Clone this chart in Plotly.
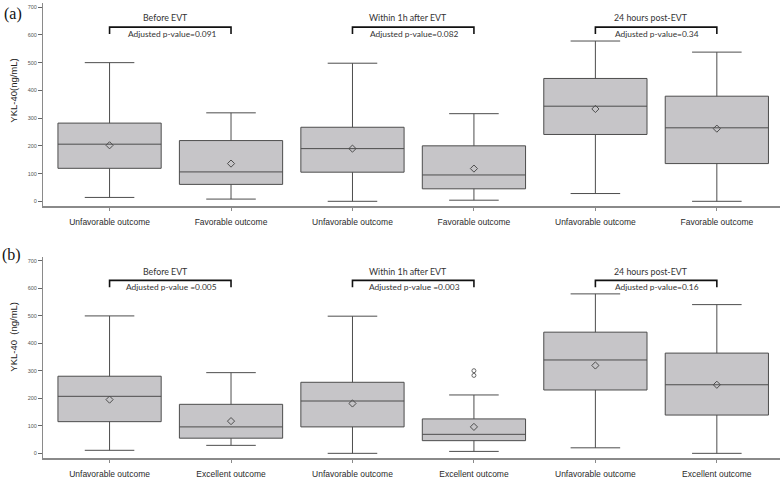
import plotly.graph_objects as go

# ---------------- data ----------------
labels_a = ["Unfavorable outcome", "Favorable outcome"] * 3
labels_b = ["Unfavorable outcome", "Excellent outcome"] * 3
timepoints = ["Before EVT", "Within 1h after EVT", "24 hours post-EVT"]
pvals_a = ["Adjusted p-value=0.091", "Adjusted p-value=0.082", "Adjusted p-value=0.34"]
pvals_b = ["Adjusted p-value =0.005", "Adjusted p-value =0.003", "Adjusted p-value=0.16"]

# panel (a)
a_lower = [14, 8, 0, 4, 28, 0]
a_q1 = [119, 61, 105, 45, 241, 136]
a_median = [206, 106, 190, 95, 343, 265]
a_q3 = [282, 219, 267, 200, 443, 379]
a_upper = [500, 319, 498, 316, 578, 538]
a_mean = [202, 136, 190, 118, 333, 262]

# panel (b)
b_lower = [11, 29, 0, 7, 20, 0]
b_q1 = [115, 55, 96, 46, 230, 139]
b_median = [207, 96, 190, 69, 339, 249]
b_q3 = [280, 178, 258, 125, 440, 364]
b_upper = [499, 293, 498, 212, 579, 540]
b_mean = [195, 117, 181, 96, 319, 249]
b_outlier_group = [3, 3]
b_outlier_values = [300, 283]

y_ticks = [0, 100, 200, 300, 400, 500, 600, 700]

# ---------------- styling ----------------
FILL = "#c6c5c8"
EDGE = "#4d4d4d"
AX = "#8a8a8a"
pos = list(range(len(labels_a)))

fig = go.Figure()


def add_panel(xa, ya, lower, q1, med, q3, upper, mean):
    fig.add_trace(go.Box(
        x=pos, q1=q1, median=med, q3=q3, lowerfence=lower, upperfence=upper,
        xaxis=xa, yaxis=ya, width=0.85, whiskerwidth=0.48,
        fillcolor=FILL, line=dict(color=EDGE, width=1), boxpoints=False,
        showlegend=False, hoverinfo="skip"))
    fig.add_trace(go.Scatter(
        x=pos, y=mean, xaxis=xa, yaxis=ya, mode="markers",
        marker=dict(symbol="diamond-open", size=5.5, color=EDGE, line=dict(width=1)),
        showlegend=False, hoverinfo="skip"))


add_panel("x", "y", a_lower, a_q1, a_median, a_q3, a_upper, a_mean)
add_panel("x2", "y2", b_lower, b_q1, b_median, b_q3, b_upper, b_mean)
fig.add_trace(go.Scatter(
    x=b_outlier_group, y=b_outlier_values, xaxis="x2", yaxis="y2", mode="markers",
    marker=dict(symbol="circle-open", size=4, color="#666", line=dict(width=1)),
    showlegend=False, hoverinfo="skip"))

xcommon = dict(range=[-0.548, 5.52], tickmode="array", tickvals=pos,
               showline=True, linecolor=AX, linewidth=1.5, ticks="outside",
               ticklen=3, tickcolor=AX, showgrid=False, zeroline=False,
               tickfont=dict(family="Liberation Sans, Arial", size=8.5, color="#2a2a2a"),
               ticklabelstandoff=4)
ycommon = dict(range=[-17, 714], tickmode="array", tickvals=y_ticks,
               showline=True, linecolor=AX, linewidth=1, ticks="outside",
               ticklen=4, tickcolor="#666", showgrid=False, zeroline=False,
               tickfont=dict(family="Liberation Sans, Arial", size=5.5, color="#555"))

fig.update_layout(
    width=780, height=480,
    margin=dict(l=43, r=0, t=0, b=0),
    paper_bgcolor="white", plot_bgcolor="white",
    xaxis=dict(xcommon, anchor="y", domain=[0, 1], ticktext=labels_a),
    yaxis=dict(ycommon, anchor="x", domain=[0.5708, 0.9931]),
    xaxis2=dict(xcommon, anchor="y2", domain=[0, 1], ticktext=labels_b),
    yaxis2=dict(ycommon, anchor="x2", domain=[0.0458, 0.4652]),
)

ann = []
shapes = []
tfont = dict(family="Lato, Open Sans, sans-serif", size=8.8, color="#333")
pfont = dict(family="Lato, Open Sans, sans-serif", size=8.4, color="#333")
for panel, (xr, yr, pv) in enumerate([("x", "y", pvals_a), ("x2", "y2", pvals_b)]):
    for k, tp in enumerate(timepoints):
        x0, x1 = 2 * k, 2 * k + 1
        mid = (x0 + x1) / 2
        # bracket
        shapes.append(dict(type="path", xref=xr, yref=yr,
                           path=f"M {x0},603 L {x0},628 L {x1},628 L {x1},603",
                           line=dict(color="#111", width=1.6)))
        ann.append(dict(x=mid - 0.04, y=662, xref=xr, yref=yr, text=tp,
                        showarrow=False, font=tfont))
        ann.append(dict(x=mid + 0.01, y=604, xref=xr, yref=yr, text=pv[k],
                        showarrow=False, font=pfont))

# y-axis titles and panel labels (positions given in pixels, converted below)
ann.append(dict(x=12.7, y=91, xref="paper", yref="paper", text="YKL-40(ng/mL)",
                showarrow=False, textangle=-90,
                font=dict(family="Liberation Sans, Arial", size=9.5, color="#222")))
ann.append(dict(x=12.7, y=337, xref="paper", yref="paper", text="YKL-40  (ng/mL)",
                showarrow=False, textangle=-90,
                font=dict(family="Liberation Sans, Arial", size=9.5, color="#222")))
ann.append(dict(x=12.5, y=14, xref="paper", yref="paper", text="(a)",
                showarrow=False,
                font=dict(family="Liberation Serif, Times New Roman", size=16, color="#111")))
ann.append(dict(x=12, y=255, xref="paper", yref="paper", text="(b)",
                showarrow=False,
                font=dict(family="Liberation Serif, Times New Roman", size=16, color="#111")))

W, H, L = 780, 480, 43
for a in ann:
    if a["xref"] == "paper":
        a["x"] = (a["x"] - L) / (W - L)
        a["y"] = 1 - a["y"] / H
        a["xanchor"] = "center"
        a["yanchor"] = "middle"

fig.update_layout(annotations=ann, shapes=shapes)
fig.write_html("out.html", config={"displayModeBar": False},
               post_script="document.body.style.margin='0px';")
